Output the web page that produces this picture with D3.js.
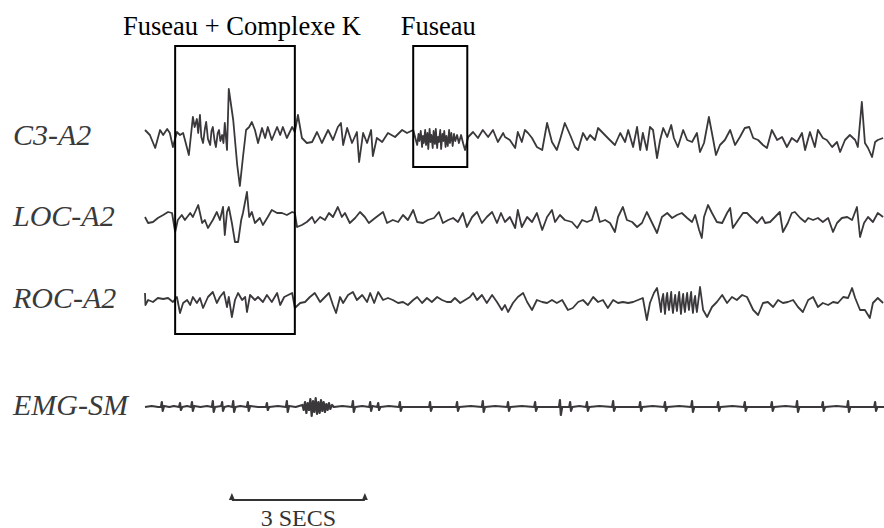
<!DOCTYPE html>
<html>
<head>
<meta charset="utf-8">
<script src="https://cdn.jsdelivr.net/npm/d3@7"></script>
<style>
  body { margin: 0; background: #fff; }
  svg { display: block; }
</style>
</head>
<body>
<div id="chart"></div>
<script>
// EEG traces, [time (s), amplitude (uV)]
const c3 = [[0.00,9],[0.11,4],[0.23,-9],[0.34,9],[0.41,4],[0.50,10],[0.56,6],[0.63,-8],[0.72,7],[0.79,4],[0.86,6],[0.99,-16],[1.08,22],[1.12,12],[1.17,20],[1.20,6],[1.24,24],[1.27,2],[1.31,-4],[1.35,10],[1.38,17],[1.42,0],[1.47,-6],[1.50,8],[1.53,12],[1.57,-2],[1.60,-8],[1.64,6],[1.67,9],[1.70,-2],[1.74,4],[1.77,-4],[1.80,16],[1.85,-11],[1.89,50],[1.99,19],[2.08,-26],[2.14,-47],[2.21,-18],[2.28,9],[2.35,12],[2.41,17],[2.48,9],[2.55,-4],[2.64,11],[2.71,1],[2.77,12],[2.86,-1],[2.98,12],[3.05,4],[3.11,12],[3.20,1],[3.32,12],[3.38,7],[3.45,24],[3.54,1],[3.65,-4],[3.77,-3],[3.88,7],[3.99,-4],[4.13,9],[4.24,-1],[4.35,12],[4.42,16],[4.47,-6],[4.56,11],[4.67,-4],[4.78,7],[4.83,-23],[4.92,6],[5.01,-4],[5.10,9],[5.14,-17],[5.23,1],[5.35,-3],[5.48,6],[5.64,2],[5.80,9],[5.91,6],[6.05,9],
  [6.14,-6],[6.17,5],[6.19,-2],[6.22,8],[6.25,-8],[6.27,3],[6.29,-4],[6.32,9],[6.34,-6],[6.37,6],[6.39,-10],[6.42,10],[6.44,-3],[6.46,4],[6.49,-9],[6.51,8],[6.54,-5],[6.56,10],[6.59,-9],[6.61,2],[6.63,-3],[6.66,9],[6.68,-10],[6.71,5],[6.73,-2],[6.75,8],[6.78,-8],[6.80,3],[6.83,-7],[6.86,9],[6.88,-4],[6.91,6],[6.94,-7],[6.97,5],[7.00,-2],[7.04,4],[7.08,-4],[7.13,4],[7.18,-5],[7.22,-11],
  [7.29,2],[7.40,7],[7.51,1],[7.62,9],[7.74,2],[7.85,9],[7.96,-3],[8.08,6],[8.12,2],[8.23,-1],[8.35,-9],[8.41,7],[8.50,-3],[8.57,9],[8.64,6],[8.73,1],[8.84,-8],[8.96,-11],[9.07,16],[9.18,-3],[9.29,-11],[9.36,-1],[9.47,16],[9.59,4],[9.70,-8],[9.77,-11],[9.88,6],[9.97,-1],[10.04,4],[10.15,-1],[10.22,11],[10.33,6],[10.44,1],[10.60,-6],[10.72,6],[10.83,-3],[10.90,9],[11.01,-8],[11.10,12],[11.17,-11],[11.23,6],[11.32,-11],[11.39,12],[11.46,9],[11.55,-19],[11.62,-1],[11.69,11],[11.78,2],[11.87,14],[11.93,1],[12.02,-8],[12.14,9],[12.23,-1],[12.34,-3],[12.45,6],[12.52,-13],[12.61,-4],[12.72,22],[12.81,1],[12.88,-16],[12.97,-6],[13.08,-1],[13.20,9],[13.31,-6],[13.42,2],[13.53,11],[13.63,12],[13.72,1],[13.83,-1],[13.94,-6],[14.03,-9],[14.14,9],[14.26,-1],[14.37,2],[14.48,-8],[14.59,1],[14.71,-3],[14.82,6],[14.89,-11],[15.00,7],[15.11,-8],[15.18,9],[15.29,1],[15.38,-1],[15.50,-8],[15.61,-3],[15.68,-13],[15.79,-1],[15.90,4],[16.02,-1],[16.08,-8],[16.17,37],[16.24,-4],[16.31,-9],[16.40,-18],[16.47,-3],[16.53,-1],[16.65,1]];

const loc = [[0.00,3],[0.07,-3],[0.18,-2],[0.29,2],[0.41,5],[0.52,8],[0.61,7],[0.68,-12],[0.74,0],[0.83,5],[0.90,0],[1.02,7],[1.08,3],[1.20,15],[1.29,-3],[1.35,0],[1.42,-8],[1.53,0],[1.62,8],[1.69,0],[1.76,13],[1.80,-15],[1.85,8],[1.89,13],[1.96,-3],[2.03,-22],[2.10,-22],[2.17,0],[2.21,7],[2.30,28],[2.35,3],[2.41,8],[2.48,-3],[2.59,2],[2.66,-5],[2.77,3],[2.86,10],[2.98,7],[3.09,7],[3.20,5],[3.32,8],[3.38,7],[3.43,-7],[3.54,-5],[3.65,-2],[3.77,3],[3.83,-3],[3.95,3],[4.06,0],[4.15,7],[4.24,3],[4.35,13],[4.44,3],[4.51,7],[4.62,-3],[4.74,2],[4.85,8],[4.96,3],[5.05,-3],[5.19,2],[5.28,5],[5.37,8],[5.46,-3],[5.59,0],[5.71,-2],[5.82,5],[5.93,0],[6.05,10],[6.14,-2],[6.27,-3],[6.38,0],[6.52,2],[6.63,8],[6.72,-3],[6.84,0],[6.95,2],[7.06,-2],[7.17,7],[7.26,-7],[7.38,3],[7.49,8],[7.60,-3],[7.71,3],[7.83,8],[7.94,-3],[8.03,7],[8.12,-2],[8.23,3],[8.35,-8],[8.41,10],[8.50,-7],[8.62,3],[8.73,-2],[8.84,7],[8.96,-10],[9.07,3],[9.18,10],[9.25,-2],[9.36,5],[9.47,0],[9.63,-2],[9.75,-8],[9.86,0],[9.97,-2],[10.08,0],[10.17,13],[10.26,-2],[10.38,0],[10.49,-3],[10.60,-12],[10.67,3],[10.78,13],[10.87,0],[10.99,-2],[11.10,-7],[11.21,-3],[11.32,8],[11.44,-3],[11.55,-13],[11.66,3],[11.78,7],[11.89,2],[12.00,5],[12.11,7],[12.23,2],[12.34,-2],[12.41,5],[12.50,-10],[12.56,-18],[12.61,3],[12.70,15],[12.79,7],[12.90,-2],[13.02,-3],[13.13,7],[13.20,12],[13.26,-8],[13.38,0],[13.49,7],[13.58,7],[13.69,2],[13.81,-3],[13.92,3],[13.99,-3],[14.10,-2],[14.21,3],[14.32,8],[14.39,-12],[14.50,-3],[14.59,7],[14.66,8],[14.78,2],[14.89,-2],[14.96,2],[15.07,0],[15.18,2],[15.29,-2],[15.41,2],[15.52,-12],[15.61,-3],[15.72,2],[15.84,3],[15.95,0],[16.06,13],[16.13,-17],[16.22,-3],[16.31,3],[16.42,-2],[16.53,7],[16.65,3]];

const roc = [[0.00,9],[0.01,-3],[0.07,2],[0.18,0],[0.29,4],[0.41,3],[0.52,4],[0.63,0],[0.72,5],[0.79,-11],[0.86,-1],[0.95,2],[1.02,-3],[1.08,5],[1.17,-1],[1.24,4],[1.31,-6],[1.42,5],[1.53,10],[1.62,-1],[1.69,5],[1.78,10],[1.85,-5],[1.89,5],[1.96,-15],[2.03,2],[2.10,9],[2.19,2],[2.26,5],[2.30,-10],[2.37,7],[2.48,2],[2.55,5],[2.66,0],[2.75,7],[2.86,0],[2.98,9],[3.05,-3],[3.14,5],[3.23,7],[3.32,9],[3.38,-6],[3.50,-1],[3.61,0],[3.72,5],[3.83,9],[3.95,0],[4.06,5],[4.15,9],[4.24,-3],[4.31,-11],[4.40,5],[4.47,-1],[4.58,7],[4.69,10],[4.78,2],[4.90,7],[5.01,0],[5.08,9],[5.17,-1],[5.26,10],[5.37,2],[5.48,4],[5.59,2],[5.71,-1],[5.82,0],[5.93,-3],[6.05,2],[6.14,5],[6.25,-1],[6.36,4],[6.47,0],[6.59,5],[6.70,2],[6.81,0],[6.90,0],[6.99,4],[7.11,-1],[7.22,2],[7.33,5],[7.40,9],[7.49,2],[7.60,7],[7.71,-1],[7.83,7],[7.94,0],[8.05,-8],[8.12,-3],[8.19,-10],[8.30,-1],[8.41,5],[8.53,9],[8.62,0],[8.73,-8],[8.84,2],[8.96,0],[9.07,-1],[9.18,2],[9.29,-1],[9.41,2],[9.54,-8],[9.65,-6],[9.77,0],[9.88,2],[9.99,-3],[10.11,5],[10.22,0],[10.33,2],[10.44,-6],[10.56,2],[10.67,-1],[10.78,0],[10.90,-1],[11.01,0],[11.12,2],[11.23,4],[11.32,-18],[11.39,-1],[11.48,9],[11.55,14],[11.60,2],
  [11.64,-10],[11.66,2],[11.69,8],[11.71,-3],[11.73,-12],[11.76,4],[11.78,9],[11.80,-2],[11.82,-8],[11.85,3],[11.87,10],[11.89,-4],[11.91,-11],[11.94,1],[11.96,7],[11.98,-3],[12.00,-9],[12.03,4],[12.05,10],[12.07,-2],[12.09,-12],[12.12,2],[12.14,8],[12.16,-4],[12.18,-10],[12.21,3],[12.23,9],[12.25,-1],[12.27,-8],[12.30,4],[12.32,10],[12.34,-3],[12.36,-11],[12.39,2],[12.41,6],[12.43,-4],[12.45,-10],
  [12.52,15],[12.59,-8],[12.68,-15],[12.79,-5],[12.90,0],[13.02,7],[13.13,-1],[13.24,5],[13.35,2],[13.47,7],[13.58,5],[13.72,-8],[13.83,-13],[13.94,-1],[14.05,0],[14.17,-5],[14.28,2],[14.39,-1],[14.50,0],[14.62,2],[14.73,-5],[14.84,-10],[14.96,2],[15.07,5],[15.18,-5],[15.29,-1],[15.41,-3],[15.52,0],[15.63,-1],[15.75,5],[15.86,4],[15.95,14],[16.02,4],[16.13,-8],[16.24,-8],[16.35,-16],[16.42,-1],[16.53,4],[16.65,-1]];

const emg = [[0.00,0],[0.15,1],[0.30,0],[0.36,0],[0.38,5],[0.40,-4],[0.43,1],[0.55,0],[0.65,1],[0.77,0],[0.79,4],[0.81,-3],[0.84,0],[0.95,1],[1.04,0],[1.06,5],[1.08,-4],[1.11,1],[1.25,0],[1.40,1],[1.51,0],[1.53,6],[1.55,-5],[1.58,0],[1.72,1],[1.74,5],[1.76,-4],[1.79,0],[1.88,1],[1.97,0],[1.99,6],[2.01,-5],[2.04,0],[2.15,1],[2.30,0],[2.32,5],[2.34,-4],[2.37,1],[2.55,0],[2.73,0],[2.75,4],[2.77,-3],[2.80,0],[3.00,1],[3.18,0],[3.20,6],[3.22,-5],[3.25,1],[3.40,0],
  [3.55,2],[3.58,-3],[3.61,5],[3.64,-6],[3.67,4],[3.70,-3],[3.73,8],[3.76,-9],[3.79,6],[3.82,-5],[3.85,9],[3.88,-7],[3.91,5],[3.94,-6],[3.97,7],[4.00,-4],[4.03,5],[4.06,-5],[4.09,3],[4.12,-3],[4.15,4],[4.18,-2],[4.22,2],[4.26,0],
  [4.45,1],[4.67,0],[4.69,6],[4.71,-5],[4.74,0],[4.90,1],[5.06,0],[5.08,5],[5.10,-4],[5.13,1],[5.24,0],[5.26,4],[5.28,-3],[5.31,0],[5.50,1],[5.73,0],[5.75,5],[5.77,-4],[5.80,0],[6.10,0],[6.41,0],[6.43,5],[6.45,-4],[6.48,0],[6.75,0],[7.02,0],[7.04,5],[7.06,-4],[7.09,0],[7.35,1],[7.60,0],[7.62,6],[7.64,-5],[7.67,0],[7.90,1],[8.17,0],[8.19,5],[8.21,-4],[8.24,0],[8.50,1],[8.78,0],[8.80,5],[8.82,-4],[8.85,0],[9.10,0],[9.34,0],[9.36,7],[9.38,-8],[9.41,0],[9.57,0],[9.59,5],[9.61,-4],[9.64,0],[9.80,1],[9.95,0],[9.97,5],[9.99,-4],[10.02,0],[10.25,1],[10.54,0],[10.56,6],[10.58,-4],[10.61,0],[10.85,0],[11.15,0],[11.17,5],[11.19,-4],[11.22,0],[11.45,1],[11.71,0],[11.73,5],[11.75,-4],[11.78,0],[12.05,1],[12.32,0],[12.34,6],[12.36,-5],[12.39,0],[12.65,0],[12.91,0],[12.93,5],[12.95,-4],[12.98,0],[13.25,1],[13.51,0],[13.53,5],[13.55,-4],[13.58,0],[13.85,0],[14.12,0],[14.14,5],[14.16,-4],[14.19,0],[14.45,1],[14.69,0],[14.71,6],[14.73,-5],[14.76,0],[15.00,0],[15.27,0],[15.29,5],[15.31,-4],[15.34,0],[15.60,1],[15.84,0],[15.86,6],[15.88,-5],[15.91,0],[16.20,0],[16.45,0],[16.47,5],[16.49,-4],[16.52,0],[16.67,0]];

const channelNames = ["C3-A2", "LOC-A2", "ROC-A2", "EMG-SM"];
const channelData = [c3, loc, roc, emg];

// annotated events: [start s, end s, label]
const events = [[0.68, 3.38, "Fuseau + Complexe K"], [6.05, 7.27, "Fuseau"]];

// time scale bar
const barStart = 1.96, barLength = 3, barLabel = "3 SECS";

const width = 884, height = 528,
    duration = 16.67,
    baselines = [139, 220, 302, 407],   // vertical centre of each channel
    labelShift = [7, -2];               // event titles are not quite centred on their boxes

const serif = "'Liberation Serif'";

const svg = d3.select("#chart").append("svg")
    .attr("width", width)
    .attr("height", height);

svg.append("rect").attr("width", width).attr("height", height).attr("fill", "#fff");

const x = d3.scaleLinear()
    .domain([0, duration])
    .range([145, width]);

// 1 uV per pixel, one scale per channel
const yScales = baselines.map(b => d3.scaleLinear().domain([-50, 50]).range([b + 50, b - 50]));

const traces = svg.selectAll("g.channel")
    .data(channelData)
    .enter().append("g")
    .attr("class", "channel");

traces.append("path")
    .attr("fill", "none")
    .attr("stroke", "#3a383a")
    .attr("stroke-width", (d, i) => i === 3 ? 2.2 : 1.8)
    .attr("stroke-linejoin", "round")
    .attr("d", (d, i) => d3.line()
        .x(p => x(p[0]))
        .y(p => yScales[i](p[1]))(d));

// channel labels
svg.selectAll("text.label")
    .data(channelNames)
    .enter().append("text")
    .attr("class", "label")
    .attr("x", 13)
    .attr("y", (d, i) => baselines[i] + (i === 3 ? 8 : 6))
    .style("font-family", serif)
    .style("font-style", "italic")
    .attr("font-size", "30px")
    .attr("fill", "#3a3a3a")
    .text(d => d);

// event boxes
const boxBottoms = [334, 167];
svg.selectAll("rect.event")
    .data(events)
    .enter().append("rect")
    .attr("class", "event")
    .attr("x", d => x(d[0]))
    .attr("y", 46)
    .attr("width", d => x(d[1]) - x(d[0]))
    .attr("height", (d, i) => boxBottoms[i] - 46)
    .attr("fill", "none")
    .attr("stroke", "#000")
    .attr("stroke-width", 2);

svg.selectAll("text.event")
    .data(events)
    .enter().append("text")
    .attr("class", "event")
    .attr("x", (d, i) => (x(d[0]) + x(d[1])) / 2 + labelShift[i])
    .attr("y", 35)
    .attr("text-anchor", "middle")
    .style("font-family", serif)
    .attr("font-size", "26.5px")
    .attr("fill", "#000")
    .text(d => d[2]);

// scale bar
const bar = svg.append("g");
const x0 = x(barStart), x1 = x(barStart + barLength), barY = 500;
bar.append("line")
    .attr("x1", x0).attr("x2", x1)
    .attr("y1", barY).attr("y2", barY)
    .attr("stroke", "#333")
    .attr("stroke-width", 2);
bar.selectAll("path")
    .data([x0, x1])
    .enter().append("path")
    .attr("d", d => `M${d - 3},${barY} L${d},${barY - 7} L${d + 3},${barY} Z`)
    .attr("fill", "#333");
bar.append("text")
    .attr("x", (x0 + x1) / 2)
    .attr("y", barY + 26)
    .attr("text-anchor", "middle")
    .style("font-family", serif)
    .attr("font-size", "24px")
    .attr("fill", "#333")
    .text(barLabel);
</script>
</body>
</html>
